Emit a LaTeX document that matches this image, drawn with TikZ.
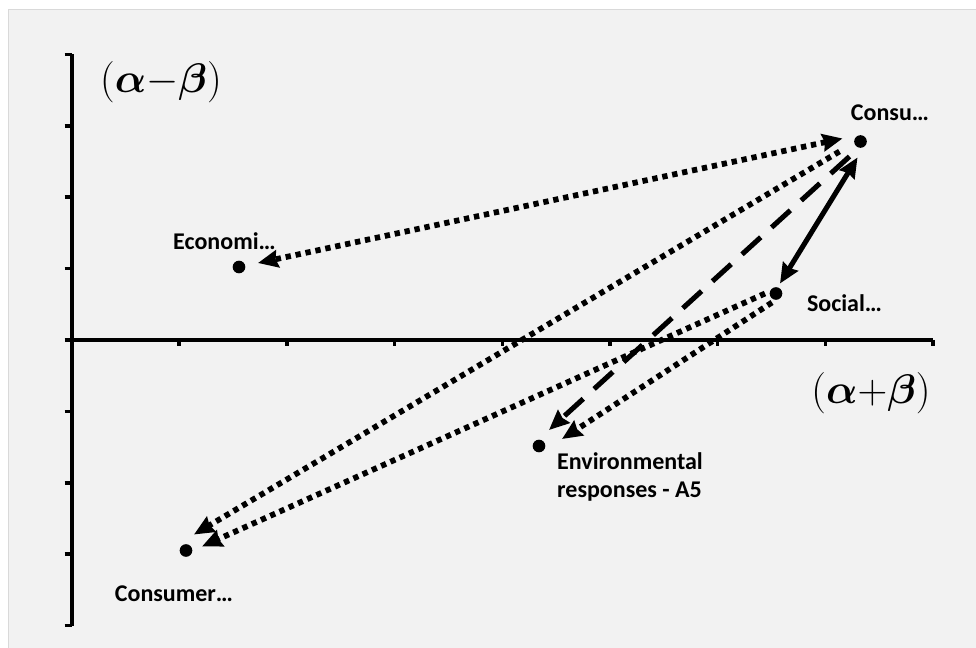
\RequirePackage{fix-cm}
\documentclass[tikz,border=0pt]{standalone}
\usepackage{fontspec}
\setmainfont{Carlito}
\usepackage{amsmath}
\usepackage{bm}
\usetikzlibrary{arrows.meta}
\definecolor{bgfill}{HTML}{F2F2F2}
\definecolor{bgedge}{HTML}{D9D9D9}
\begin{document}
\begin{tikzpicture}[x=0.75pt,y=-0.75pt,
  >={Stealth[length=15pt,width=13pt,inset=1.5pt]},
  dot/.style={circle,fill=black,inner sep=0pt,minimum size=9.5pt},
  lbl/.style={font=\fontsize{18}{21}\selectfont\bfseries,inner sep=0pt},
  axlbl/.style={font=\fontsize{31}{34}\selectfont,inner sep=0pt},
  axisline/.style={line width=3pt},
  tickline/.style={line width=2.6pt},
  dotline/.style={line width=4.3pt,dash pattern=on 4pt off 3.6pt},
  dashline/.style={line width=3.8pt,dash pattern=on 19pt off 11pt},
  solidline/.style={line width=3.8pt}]
\useasboundingbox (0,0) rectangle (976,648);
\clip (0,0) rectangle (976,648);
\fill[white] (0,0) rectangle (976,648);
\filldraw[fill=bgfill,draw=bgedge,line width=1pt] (8.5,9.5) rectangle (990,660);
% axes
\draw[axisline] (71.5,54.4) -- (71.5,625.6);
\draw[axisline] (65,340) -- (933,340);
\foreach \y in {54.4,125.8,197.2,268.6,340,411.4,482.8,554.2,625.6}
  \draw[tickline] (64.5,\y) -- (71.5,\y);
\foreach \x in {179.2,286.9,394.6,502.3,610,717.7,825.4,933}
  \draw[tickline] (\x,340) -- (\x,346.5);
% axis labels
\node[axlbl] (ylab) at (161,82) {$(\bm{\alpha}{-}\bm{\beta})$};
\node[axlbl] (xlab) at (871,393) {$(\bm{\alpha}{+}\bm{\beta})$};
% points
\node[dot] (consu) at (860.5,141.5) {};
\node[dot] (econ) at (239,267) {};
\node[dot] (social) at (776,293.5) {};
\node[dot] (env) at (539,446) {};
\node[dot] (consumer) at (186,550.5) {};
% labels
\node[lbl] (consut) at (890,113) {Consu…};
\node[lbl] (econt) at (224.5,241) {Economi…};
\node[lbl] (socialt) at (844.5,303) {Social…};
\node[lbl,align=left] (envt) at (630,477) {Environmental\\responses - A5};
\node[lbl] (consumert) at (174,594) {Consumer…};
% connectors
\draw[dotline,<->] ([shift={(-18,-3)}]consu.center) -- ([shift={(19,-4)}]econ.center);
\draw[dotline,->] ([shift={(-21,10)}]consu.center) -- ([shift={(8,-16)}]consumer.center);
\draw[dotline,->] ([shift={(-11,0)}]social.center) -- ([shift={(16,-4)}]consumer.center);
\draw[dotline,->] ([shift={(-4,9)}]social.center) -- ([shift={(23,-7)}]env.center);
\draw[dashline,->] ([shift={(-11,15)}]consu.center) -- ([shift={(10,-16)}]env.center);
\draw[solidline,<->] ([shift={(4,-10)}]social.center) -- ([shift={(-3,16)}]consu.center);
\end{tikzpicture}
\end{document}
